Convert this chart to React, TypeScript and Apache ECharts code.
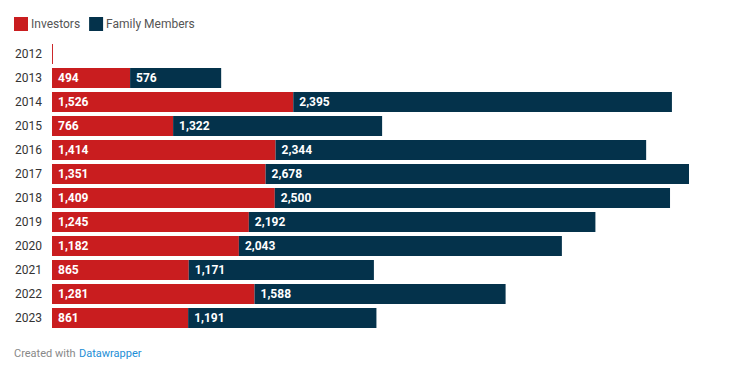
import React, { useEffect, useRef } from "react";
import * as echarts from "echarts";

const years = ["2012", "2013", "2014", "2015", "2016", "2017", "2018", "2019", "2020", "2021", "2022", "2023"];
const investors = [6, 494, 1526, 766, 1414, 1351, 1409, 1245, 1182, 865, 1281, 861];
const familyMembers = [0, 576, 2395, 1322, 2344, 2678, 2500, 2192, 2043, 1171, 1588, 1191];

const RED = "#c91d1f";
const NAVY = "#04324b";
const FONT = "Roboto, 'Noto Sans', sans-serif";

const fmt = (v: number) => v.toLocaleString("en-US");

export default function App() {
  const ref = useRef<HTMLDivElement>(null);
  useEffect(() => {
    if (!ref.current) return;
    const chart = echarts.init(ref.current, undefined, { renderer: "svg" });
    const label = {
      show: true,
      position: "insideLeft" as const,
      distance: 6,
      color: "#fff",
      fontWeight: "bold" as const,
      fontSize: 12,
      fontFamily: FONT,
      formatter: (p: any) => (p.value >= 100 ? fmt(p.value) : ""),
    };
    chart.setOption({
      animation: false,
      textStyle: { fontFamily: FONT },
      legend: {
        left: 14,
        top: 17,
        padding: 0,
        icon: "rect",
        itemWidth: 14,
        itemHeight: 14,
        itemGap: 9,
        selectedMode: false,
        textStyle: { fontSize: 12, color: "#555", fontFamily: FONT, padding: [0, 0, 0, -2] },
        data: ["Investors", "Family Members"],
      },
      grid: { left: 52, top: 42, width: 637, height: 288, containLabel: false },
      xAxis: { type: "value", min: 0, max: 4029, show: false },
      yAxis: {
        type: "category",
        data: years,
        inverse: true,
        axisLine: { show: false },
        axisTick: { show: false },
        axisLabel: { fontSize: 12, color: "#333", margin: 10, fontFamily: FONT },
      },
      series: [
        {
          name: "Investors",
          type: "bar",
          stack: "t",
          data: investors,
          barWidth: 20,
          itemStyle: { color: RED },
          label,
        },
        {
          name: "Family Members",
          type: "bar",
          stack: "t",
          data: familyMembers,
          barWidth: 20,
          itemStyle: { color: NAVY },
          label,
        },
      ],
      graphic: [
        {
          type: "text",
          left: 14,
          top: 348,
          style: {
            text: "Created with",
            fill: "#888",
            fontSize: 11,
            fontFamily: FONT,
          },
        },
        {
          type: "text",
          left: 79,
          top: 348,
          style: {
            text: "Datawrapper",
            fill: "#1d8ed6",
            fontSize: 11,
            fontFamily: FONT,
          },
        },
      ],
    });
    return () => chart.dispose();
  }, []);
  return (
    <div
      ref={ref}
      style={{ position: "fixed", left: 0, top: 0, width: 752, height: 380, background: "#fff" }}
    />
  );
}
